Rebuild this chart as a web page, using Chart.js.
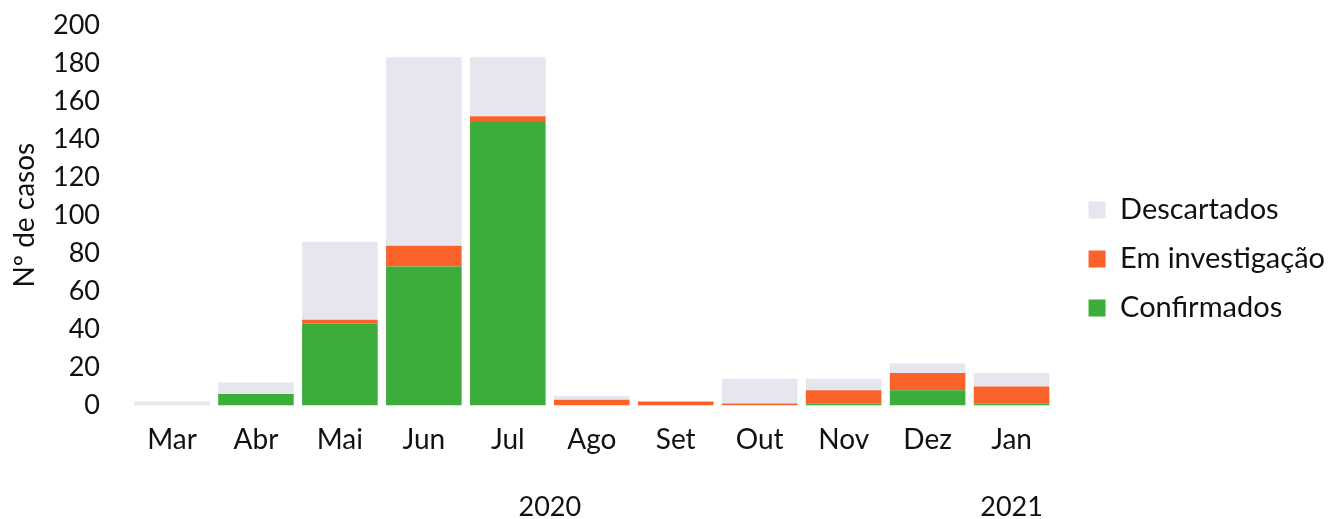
<!DOCTYPE html>
<html>
<head>
<meta charset="utf-8">
<script src="https://cdn.jsdelivr.net/npm/chart.js@4"></script>
<style>
  body { margin: 0; background: #fff; }
  #wrap { width: 1336px; height: 519px; }
</style>
</head>
<body>
<div id="wrap"><canvas id="casesChart"></canvas></div>
<script>
const months = ["Mar", "Abr", "Mai", "Jun", "Jul", "Ago", "Set", "Out", "Nov", "Dez", "Jan"];
const confirmados = [0, 6, 43, 73, 149, 0, 0, 0, 1, 8, 1];
const emInvestigacao = [0, 0, 2, 11, 3, 3, 2, 1, 7, 9, 9];
const descartados = [2, 6, 41, 99, 31, 2, 0, 13, 6, 5, 7];
const yTicks = [0, 20, 40, 60, 80, 100, 120, 140, 160, 180, 200];
// year label, first and last month index it spans
const years = [["2020", 0, 9], ["2021", 10, 10]];

const fontName = "Lato, 'Open Sans', sans-serif";

// Draw the year row under the month labels
const yearLabels = {
  id: "yearLabels",
  afterDraw(chart) {
    const ctx = chart.ctx;
    const x = chart.scales.x;
    ctx.save();
    ctx.font = "27px " + fontName;
    ctx.fillStyle = "#111";
    ctx.textAlign = "center";
    ctx.textBaseline = "middle";
    years.forEach(([text, from, to]) => {
      const mid = (x.getPixelForValue(from) + x.getPixelForValue(to)) / 2;
      ctx.fillText(text, mid, 507);
    });
    ctx.restore();
  }
};

// Leave a gap between plot and legend, and move the legend entries down/right
const legendPlacement = {
  id: "legendPlacement",
  beforeInit(chart) {
    const fit = chart.legend.fit;
    chart.legend.fit = function () {
      fit.bind(chart.legend)();
      this.width += 12;
    };
  },
  afterLayout(chart) {
    const legend = chart.legend;
    legend.left += 15;
    legend.right += 15;
    legend.top += 17;
    legend.bottom += 17;
  }
};

const ctx = document.getElementById("casesChart").getContext("2d");
new Chart(ctx, {
  type: "bar",
  data: {
    labels: months,
    datasets: [
      { label: "Confirmados", data: confirmados, backgroundColor: "rgb(60, 172, 58)" },
      { label: "Em investigação", data: emInvestigacao, backgroundColor: "rgb(250, 98, 42)" },
      { label: "Descartados", data: descartados, backgroundColor: "rgb(230, 230, 238)" },
    ],
  },
  options: {
    responsive: true,
    maintainAspectRatio: false,
    animation: false,
    layout: { padding: { top: 9, bottom: 44, left: 0, right: 4 } },
    datasets: { bar: { barPercentage: 0.9, categoryPercentage: 1 } },
    scales: {
      x: {
        stacked: true,
        grid: { display: false, drawTicks: false },
        border: { display: false },
        ticks: { color: "#111", font: { family: fontName, size: 28 }, padding: 18, autoSkip: false, maxRotation: 0 },
      },
      y: {
        stacked: true,
        min: 0,
        max: 200,
        afterBuildTicks: (axis) => { axis.ticks = yTicks.map((v) => ({ value: v })); },
        afterFit: (axis) => {
          axis.width = 130;
          axis.paddingTop = 25;
          axis.paddingBottom = 16;
        },
        grid: { display: false, drawTicks: false },
        border: { display: false },
        ticks: { color: "#111", font: { family: fontName, size: 27 }, padding: 30, autoSkip: false },
        title: {
          display: true,
          text: "Nº de casos",
          color: "#111",
          font: { family: fontName, size: 28 },
          padding: 8,
        },
      },
    },
    plugins: {
      legend: {
        position: "right",
        reverse: true,
        labels: {
          color: "#111",
          font: { family: fontName, size: 29 },
          boxWidth: 17,
          boxHeight: 17,
          padding: 20,
        },
      },
      tooltip: { enabled: false },
    },
  },
  plugins: [yearLabels, legendPlacement],
});
</script>
</body>
</html>
